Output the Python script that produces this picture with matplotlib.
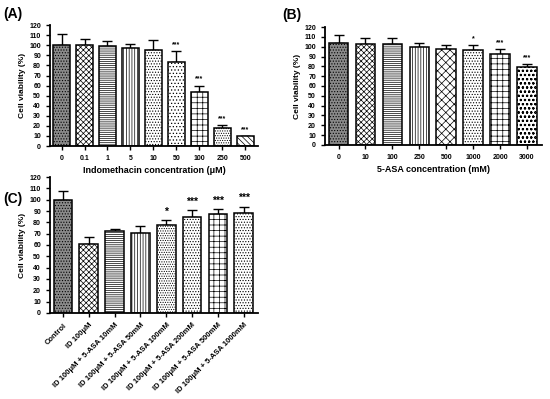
import matplotlib
matplotlib.use("Agg")
import matplotlib.pyplot as plt
import numpy as np

plt.rcParams['font.family'] = ['Liberation Sans', 'DejaVu Sans']
plt.rcParams['hatch.linewidth'] = 0.5
plt.rcParams['font.weight'] = 'bold'

# panel A: indomethacin
a_labels = ['0', '0.1', '1', '5', '10', '50', '100', '250', '500']
a_values = [100, 100, 99, 97, 95, 83, 54, 18, 9.5]
a_errors = [11, 6, 5, 4, 10, 11, 6, 3, 0.5]
a_stars = ['', '', '', '', '', '***', '***', '***', '***']
a_hatches = ['......', 'xxxxxx', '--------', '||||||', '......', '.....', '+++', '.......', '\\\\\\\\\\\\']

# panel B: 5-ASA
b_labels = ['0', '10', '100', '250', '500', '1000', '2000', '3000']
b_values = [104, 103, 103, 100, 98, 97, 93, 79]
b_errors = [8, 6, 6, 4, 4, 5, 5, 3]
b_stars = ['', '', '', '', '', '*', '***', '***']
b_hatches = ['......', 'xxxxxx', '--------', '||||||', 'xxxx', '......', '+++', 'oooo']

# panel C: combination
c_labels = ['Control', 'ID 100\u03bcM', 'ID 100\u03bcM + 5-ASA 10mM', 'ID 100\u03bcM + 5-ASA 50mM',
            'ID 100\u03bcM + 5-ASA 100mM', 'ID 100\u03bcM + 5-ASA 200mM',
            'ID 100\u03bcM + 5-ASA 500mM', 'ID 100\u03bcM + 5-ASA 1000mM']
c_values = [100, 61, 72, 71, 78, 85, 87, 88]
c_errors = [8, 6, 2, 6, 4, 6, 5, 6]
c_stars = ['', '', '', '', '*', '***', '***', '***']
c_hatches = ['......', 'xxxxxx', '--------', '||||||', '.......', '......', '+++', '......']


def draw_panel(ax, labels, values, errors, stars, hatches, xlabel, star_size, rot=0):
    x = np.arange(len(values))
    for i in range(len(values)):
        face = '#8a8a8a' if i == 0 else 'white'
        ax.bar(x[i], values[i], width=0.72, color=face, edgecolor='black',
               linewidth=1.1, hatch=hatches[i], zorder=2)
    ax.errorbar(x, values, yerr=[np.zeros(len(errors)), errors], fmt='none',
                ecolor='black', elinewidth=1, capsize=3.5, capthick=1, zorder=1)
    for i in range(len(values)):
        if stars[i]:
            ax.text(x[i], values[i] + errors[i] + 3, stars[i], ha='center', va='bottom',
                    fontsize=star_size, fontweight='bold')
    ax.set_ylim(0, 120)
    ax.set_yticks(range(0, 121, 10))
    ax.set_xlim(-0.5, len(values) - 0.45)
    ax.set_xticks(x)
    if rot:
        ax.set_xticklabels(labels, rotation=rot, ha='right', rotation_mode='anchor')
    else:
        ax.set_xticklabels(labels)
    ax.spines['top'].set_visible(False)
    ax.spines['right'].set_visible(False)
    ax.spines['left'].set_linewidth(1.3)
    ax.spines['bottom'].set_linewidth(1.3)
    ax.tick_params(axis='both', labelsize=5, width=1, length=3)
    ax.set_ylabel('Cell viability (%)', fontsize=6, fontweight='bold', labelpad=2)
    if xlabel:
        ax.set_xlabel(xlabel, fontsize=6.5, fontweight='bold', labelpad=3)


fig = plt.figure(figsize=(5.5, 3.99), dpi=100)
ax_a = fig.add_axes([0.091, 0.634, 0.378, 0.303])
ax_b = fig.add_axes([0.591, 0.637, 0.394, 0.295])
ax_c = fig.add_axes([0.091, 0.216, 0.378, 0.340])

draw_panel(ax_a, a_labels, a_values, a_errors, a_stars, a_hatches,
           'Indomethacin concentration (\u03bcM)', 5)
draw_panel(ax_b, b_labels, b_values, b_errors, b_stars, b_hatches,
           '5-ASA concentration (mM)', 5)
draw_panel(ax_c, c_labels, c_values, c_errors, c_stars, c_hatches, None, 7.5, rot=45)
ax_c.tick_params(axis='x', labelsize=5.5)

fig.text(0.005, 0.965, '(A)', fontsize=10, fontweight='bold', va='center')
fig.text(0.513, 0.963, '(B)', fontsize=10, fontweight='bold', va='center')
fig.text(0.005, 0.50, '(C)', fontsize=10, fontweight='bold', va='center')

fig.savefig('out.png', dpi=100)
